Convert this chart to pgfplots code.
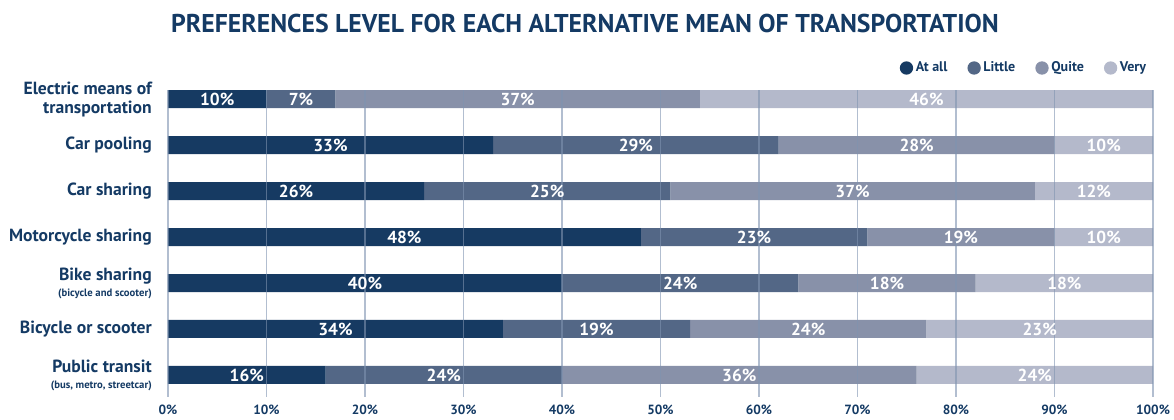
\documentclass[border=0pt]{standalone}
\usepackage{pgfplots}
\pgfplotsset{compat=1.18}
\usepackage{fontspec}
\setmainfont{PT Sans}
\definecolor{navy}{HTML}{143A64}
\definecolor{cA}{HTML}{163A62}
\definecolor{cB}{HTML}{536786}
\definecolor{cC}{HTML}{8891A9}
\definecolor{cD}{HTML}{B4B9CB}
\definecolor{gridc}{HTML}{7F93B0}
\begin{document}
\begin{tikzpicture}
\useasboundingbox (0,0) rectangle (880.5pt,315pt);
\node[font=\bfseries\fontsize{19.3}{21}\selectfont, text=navy, anchor=center] at (438.75pt,297.5pt) {PREFERENCES LEVEL FOR EACH ALTERNATIVE MEAN OF TRANSPORTATION};
\begin{axis}[
  at={(126pt,17.25pt)}, anchor=south west,
  scale only axis, width=738.75pt, height=230.25pt,
  xbar stacked, bar width=13.5pt,
  xmin=0, xmax=100, ymin=-0.48, ymax=6.2,
  axis line style={draw=none},
  major tick length=0pt,
  axis on top,
  xmajorgrids,
  grid style={gridc, opacity=0.6, line width=0.8pt},
  xtick={0,10,...,100},
  xticklabels={0\%,10\%,20\%,30\%,40\%,50\%,60\%,70\%,80\%,90\%,100\%},
  xticklabel style={font=\bfseries\fontsize{10}{11}\selectfont, text=navy, inner sep=0pt},
  xticklabel shift=6pt,
  ytick={0,...,6},
  yticklabels={
    {Public transit\\[-2pt]{\fontsize{8}{8}\selectfont (bus, metro, streetcar)}},
    {Bicycle or scooter},
    {Bike sharing\\[-2pt]{\fontsize{8}{8}\selectfont (bicycle and scooter)}},
    {Motorcycle sharing},
    {Car sharing},
    {Car pooling},
    {Electric means of\\transportation}},
  yticklabel style={font=\bfseries\fontsize{13.2}{14}\selectfont, text=navy, align=right, inner sep=0pt},
  yticklabel shift=12pt,
  point meta=explicit symbolic,
  nodes near coords,
  every node near coord/.append style={text=white, font=\bfseries\fontsize{13}{13}\selectfont},
  legend columns=4,
  legend style={draw=none, fill=none, at={(1,1)}, anchor=east, yshift=16.5pt,
    font=\bfseries\fontsize{10.5}{11}\selectfont, text=navy,
    /tikz/every even column/.append style={column sep=13pt}},
  legend image code/.code={\fill[#1] (2pt,0pt) circle (5pt);},
]
\addplot[fill=cA, draw=none] coordinates {(16,0)[16\%] (34,1)[34\%] (40,2)[40\%] (48,3)[48\%] (26,4)[26\%] (33,5)[33\%] (10,6)[10\%]};
\addplot[fill=cB, draw=none] coordinates {(24,0)[24\%] (19,1)[19\%] (24,2)[24\%] (23,3)[23\%] (25,4)[25\%] (29,5)[29\%] (7,6)[7\%]};
\addplot[fill=cC, draw=none] coordinates {(36,0)[36\%] (24,1)[24\%] (18,2)[18\%] (19,3)[19\%] (37,4)[37\%] (28,5)[28\%] (37,6)[37\%]};
\addplot[fill=cD, draw=none] coordinates {(24,0)[24\%] (23,1)[23\%] (18,2)[18\%] (10,3)[10\%] (12,4)[12\%] (10,5)[10\%] (46,6)[46\%]};
\legend{At all, Little, Quite, Very}
\end{axis}
\end{tikzpicture}
\end{document}
